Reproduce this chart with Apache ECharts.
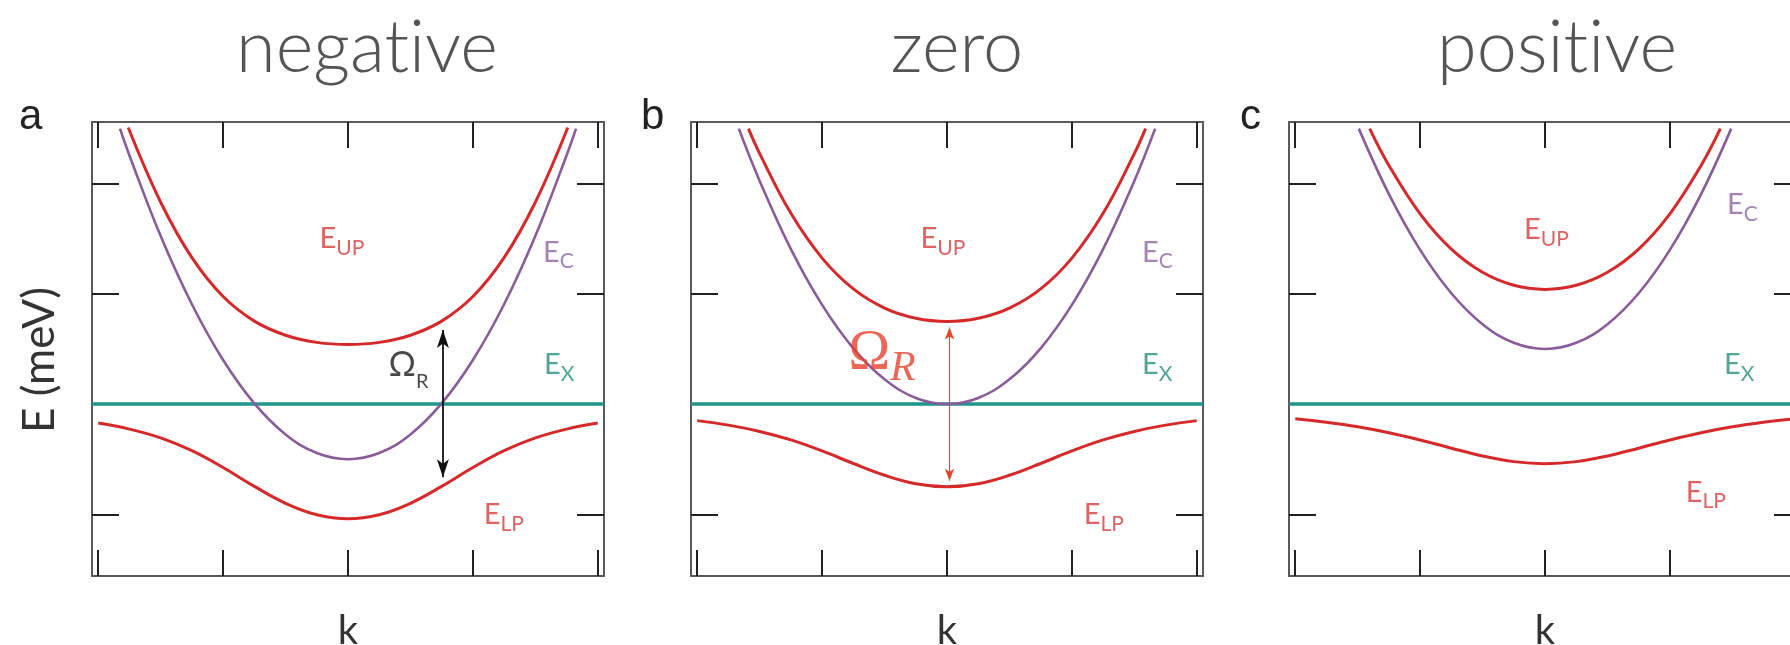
<!DOCTYPE html>
<html>
<head>
<meta charset="utf-8">
<script src="https://cdn.jsdelivr.net/npm/echarts@6/dist/echarts.min.js"></script>
<style>
  html, body { margin: 0; padding: 0; background: #ffffff; }
  #chart { width: 1790px; height: 645px; }
</style>
</head>
<body>
<div id="chart"></div>
<script>
// ---- panel captions (zero-width non-joiner keeps "t" and "i" as separate glyphs) ----
const panelTitles = ['negat\u200Cive', 'zero', 'posit\u200Cive'];
const panelLetters = ['a', 'b', 'c'];
const xAxisName = 'k';
const yAxisName = 'E (meV)';

// ---- tick values (in-box ticks on all four sides) ----
const xTicks = [-2, -1, 0, 1, 2];
const yTicks = [-1, 0, 1, 2];

// ---- momentum grid for the lower polariton branch ----
const kGrid = [-2, -1.75, -1.5, -1.25, -1, -0.75, -0.5, -0.25, 0, 0.25, 0.5, 0.75, 1, 1.25, 1.5, 1.75, 2];

// ---- exciton level (flat) ----
const excitonLine = [[-2.05, 0], [2.05, 0]];

// ---- (a) negative detuning ----
const negLP = [-0.172, -0.227, -0.307, -0.423, -0.576, -0.747, -0.900, -1.004, -1.041, -1.004, -0.900, -0.747, -0.576, -0.423, -0.307, -0.227, -0.172];
const negUP = [[-1.76, 2.51], [-1.5, 1.832], [-1.25, 1.329], [-1, 0.976], [-0.75, 0.753], [-0.5, 0.625], [-0.25, 0.560], [0, 0.541],
               [0.25, 0.560], [0.5, 0.625], [0.75, 0.753], [1, 0.976], [1.25, 1.329], [1.5, 1.832], [1.76, 2.51]];
const negC  = [[-1.826, 2.5], [-1.75, 2.256], [-1.5, 1.525], [-1.25, 0.906], [-1, 0.4], [-0.75, 0.006], [-0.5, -0.275], [-0.25, -0.444], [0, -0.5],
               [0.25, -0.444], [0.5, -0.275], [0.75, 0.006], [1, 0.4], [1.25, 0.906], [1.5, 1.525], [1.75, 2.256], [1.826, 2.5]];

// ---- (b) zero detuning ----
const zeroLP = [-0.150, -0.191, -0.248, -0.325, -0.425, -0.539, -0.646, -0.723, -0.750, -0.723, -0.646, -0.539, -0.425, -0.325, -0.248, -0.191, -0.150];
const zeroUP = [[-1.59, 2.5], [-1.5, 2.273], [-1.25, 1.731], [-1, 1.325], [-0.75, 1.045], [-0.5, 0.871], [-0.25, 0.779], [0, 0.750],
                [0.25, 0.779], [0.5, 0.871], [0.75, 1.045], [1, 1.325], [1.25, 1.731], [1.5, 2.273], [1.59, 2.5]];
const zeroC  = [[-1.667, 2.5], [-1.5, 2.025], [-1.25, 1.406], [-1, 0.9], [-0.75, 0.506], [-0.5, 0.225], [-0.25, 0.056], [0, 0],
                [0.25, 0.056], [0.5, 0.225], [0.75, 0.506], [1, 0.9], [1.25, 1.406], [1.5, 2.025], [1.667, 2.5]];

// ---- (c) positive detuning ----
const posLP = [-0.133, -0.165, -0.206, -0.260, -0.326, -0.400, -0.471, -0.522, -0.541, -0.522, -0.471, -0.400, -0.326, -0.260, -0.206, -0.165, -0.133];
const posUP = [[-1.404, 2.5], [-1.25, 2.166], [-1, 1.726], [-0.75, 1.406], [-0.5, 1.196], [-0.25, 1.078], [0, 1.041],
               [0.25, 1.078], [0.5, 1.196], [0.75, 1.406], [1, 1.726], [1.25, 2.166], [1.404, 2.5]];
const posC  = [[-1.491, 2.5], [-1.25, 1.906], [-1, 1.4], [-0.75, 1.006], [-0.5, 0.725], [-0.25, 0.556], [0, 0.5],
               [0.25, 0.556], [0.5, 0.725], [0.75, 1.006], [1, 1.4], [1.25, 1.906], [1.491, 2.5]];

// ---- Rabi splitting arrows: [k, upper branch, lower branch] ----
const negRabi = [0.76, 0.755, -0.745];
const zeroRabi = [0.02, 0.750, -0.750];

// ---- look ----
const RED = '#d62a2a';
const PURPLE = '#8a5c9c';
const TEAL = '#1f968a';
const RED_TXT = '#d83b3b';
const PURPLE_TXT = '#9064a4';
const TEAL_TXT = '#26907f';
const FONT = 'Lato, "Open Sans", sans-serif';
const SERIF = '"Liberation Serif", "DejaVu Serif", serif';
const X_MIN = -2.05, X_MAX = 2.05, Y_MIN = -1.56, Y_MAX = 2.56;
const GRID_TOP = 122, GRID_W = 512, GRID_H = 454;
const gridLefts = [92, 691, 1289];
const pxPerY = GRID_H / (Y_MAX - Y_MIN);

// main letter + lowered subscript
function eRich(color) {
  return {
    m: { fontSize: 29, fontFamily: FONT, color: color, height: 30, lineHeight: 30, verticalAlign: 'top' },
    s: { fontSize: 21, fontFamily: FONT, color: color, height: 12, lineHeight: 12, verticalAlign: 'bottom' }
  };
}

// label anchors (centre of text) per panel, in data units
const panelLabels = [
  [
    { t: '{m|E}{s|UP}', at: [-0.048, 1.50], rich: eRich(RED_TXT) },
    { t: '{m|E}{s|C}', at: [1.684, 1.378], rich: eRich(PURPLE_TXT) },
    { t: '{m|E}{s|X}', at: [1.692, 0.354], rich: eRich(TEAL_TXT) },
    { t: '{m|E}{s|LP}', at: [1.248, -1.006], rich: eRich(RED_TXT) },
    { t: '{o|Ω}{r|R}', at: [0.484, 0.354], rich: {
        o: { fontSize: 34, fontFamily: FONT, color: '#1a1a1a', height: 42, lineHeight: 42, verticalAlign: 'top' },
        r: { fontSize: 20, fontFamily: FONT, color: '#1a1a1a', height: 10, lineHeight: 10, verticalAlign: 'bottom' } } }
  ],
  [
    { t: '{m|E}{s|UP}', at: [-0.032, 1.50], rich: eRich(RED_TXT) },
    { t: '{m|E}{s|C}', at: [1.684, 1.378], rich: eRich(PURPLE_TXT) },
    { t: '{m|E}{s|X}', at: [1.684, 0.354], rich: eRich(TEAL_TXT) },
    { t: '{m|E}{s|LP}', at: [1.256, -1.006], rich: eRich(RED_TXT) },
    { t: '{o|Ω}{r|R}', at: [-0.52, 0.453], rich: {
        o: { fontSize: 56, fontFamily: SERIF, color: '#e8412c', height: 56, lineHeight: 56, verticalAlign: 'top' },
        r: { fontSize: 42, fontFamily: SERIF, fontStyle: 'italic', color: '#e8412c', height: 26, lineHeight: 26, verticalAlign: 'bottom' } } }
  ],
  [
    { t: '{m|E}{s|UP}', at: [0.012, 1.582], rich: eRich(RED_TXT) },
    { t: '{m|E}{s|C}', at: [1.58, 1.807], rich: eRich(PURPLE_TXT) },
    { t: '{m|E}{s|X}', at: [1.556, 0.354], rich: eRich(TEAL_TXT) },
    { t: '{m|E}{s|LP}', at: [1.288, -0.803], rich: eRich(RED_TXT) }
  ]
];

const panelData = [
  { lp: negLP, up: negUP, c: negC, rabi: negRabi, rabiColor: '#111111', rabiWidth: 1.8, head: [9, 18] },
  { lp: zeroLP, up: zeroUP, c: zeroC, rabi: zeroRabi, rabiColor: '#e8452c', rabiWidth: 1.2, head: [7, 12] },
  { lp: posLP, up: posUP, c: posC, rabi: null }
];

const boxLine = { color: '#5a5a5a', width: 2 };
const tickLine = { color: '#222222', width: 2 };

const grids = [], xAxes = [], yAxes = [], series = [];

panelData.forEach(function (p, i) {
  grids.push({ left: gridLefts[i], top: GRID_TOP, width: GRID_W, height: GRID_H, containLabel: false, outerBoundsMode: 'none' });

  ['bottom', 'top'].forEach(function (pos) {
    xAxes.push({
      gridIndex: i, type: 'value', position: pos, min: X_MIN, max: X_MAX,
      axisLine: { show: true, onZero: false, lineStyle: boxLine },
      axisTick: { show: true, inside: true, length: 26, customValues: xTicks, lineStyle: tickLine },
      axisLabel: { show: false }, splitLine: { show: false },
      name: pos === 'bottom' ? xAxisName : '', nameLocation: 'middle', nameGap: 35,
      nameTextStyle: { fontSize: 40, fontFamily: FONT, color: '#333333' }
    });
  });
  ['left', 'right'].forEach(function (pos) {
    const showName = (i === 0 && pos === 'left');
    yAxes.push({
      gridIndex: i, type: 'value', position: pos, min: Y_MIN, max: Y_MAX,
      axisLine: { show: true, onZero: false, lineStyle: boxLine },
      axisTick: { show: true, inside: true, length: 27, customValues: yTicks, lineStyle: tickLine },
      axisLabel: { show: false }, splitLine: { show: false },
      name: showName ? yAxisName : '', nameLocation: 'middle', nameGap: 30, nameRotate: 90,
      nameTextStyle: { fontSize: 44, fontFamily: FONT, color: '#333333', padding: [0, 22, 0, 0] }
    });
  });

  const xi = i * 2, yi = i * 2;
  const base = { type: 'line', xAxisIndex: xi, yAxisIndex: yi, showSymbol: false, symbol: 'none', silent: true, animation: false };

  series.push(Object.assign({}, base, { name: 'E_X', data: excitonLine, lineStyle: { color: TEAL, width: 3.5 }, z: 3 }));
  series.push(Object.assign({}, base, { name: 'E_C', data: p.c, smooth: 0.4, lineStyle: { color: PURPLE, width: 2.6 }, z: 4 }));
  const lp = kGrid.map(function (k, j) { return [k, p.lp[j]]; });
  series.push(Object.assign({}, base, { name: 'E_LP', data: lp, smooth: 0.4, lineStyle: { color: RED, width: 3 }, z: 5 }));

  const up = Object.assign({}, base, { name: 'E_UP', data: p.up, smooth: 0.4, lineStyle: { color: RED, width: 3 }, z: 5 });
  if (p.rabi) {
    const inset = (p.head[1] / 2) / pxPerY;
    up.markLine = {
      silent: true, animation: false, symbol: ['arrow', 'arrow'], symbolSize: p.head,
      lineStyle: { color: p.rabiColor, width: p.rabiWidth, type: 'solid' },
      itemStyle: { color: p.rabiColor },
      label: { show: false }, emphasis: { disabled: true },
      data: [[{ coord: [p.rabi[0], p.rabi[1] - inset] }, { coord: [p.rabi[0], p.rabi[2] + inset] }]]
    };
  }
  series.push(up);

  series.push({
    type: 'scatter', xAxisIndex: xi, yAxisIndex: yi, silent: true, animation: false, z: 10,
    symbolSize: 0, itemStyle: { color: 'rgba(0,0,0,0)' },
    data: panelLabels[i].map(function (l) {
      return { value: l.at, label: { show: true, position: 'inside', formatter: l.t, rich: l.rich } };
    })
  });
});

// captions above panels and panel letters
const titleCenters = [367, 957, 1557];
const letterLefts = [19, 641, 1240];
const graphics = [];
panelTitles.forEach(function (t, i) {
  graphics.push({ type: 'text', x: titleCenters[i], y: 49, silent: true,
    style: { text: t, fontSize: 72, fontWeight: 300, fontFamily: FONT, fill: '#555555', textAlign: 'center', textVerticalAlign: 'middle' } });
  graphics.push({ type: 'text', x: letterLefts[i], y: 117, silent: true,
    style: { text: panelLetters[i], fontSize: 42, fontFamily: '"Liberation Sans", Arial, sans-serif', fill: '#222222', textAlign: 'left', textVerticalAlign: 'middle' } });
});

const chart = echarts.init(document.getElementById('chart'), null, { renderer: 'canvas' });
chart.setOption({
  animation: false,
  backgroundColor: '#ffffff',
  grid: grids, xAxis: xAxes, yAxis: yAxes, series: series,
  graphic: graphics
});
</script>
</body>
</html>
